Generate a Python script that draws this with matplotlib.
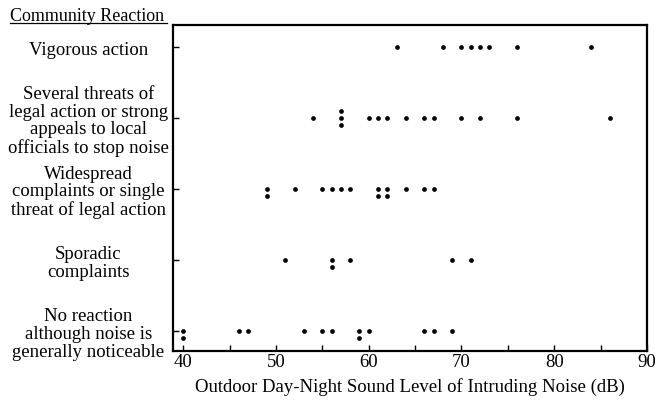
import matplotlib
matplotlib.use("Agg")
import matplotlib.pyplot as plt
from matplotlib.lines import Line2D
from collections import Counter

plt.rcParams['font.family'] = ['Liberation Serif', 'DejaVu Serif']

categories = [
    "No reaction\nalthough noise is\ngenerally noticeable",
    "Sporadic\ncomplaints",
    "Widespread\ncomplaints or single\nthreat of legal action",
    "Several threats of\nlegal action or strong\nappeals to local\nofficials to stop noise",
    "Vigorous action",
]

no_reaction = [40, 40, 46, 47, 53, 55, 56, 59, 59, 60, 66, 67, 69]
sporadic = [51, 56, 56, 58, 69, 71]
widespread = [49, 49, 52, 55, 56, 57, 58, 61, 61, 62, 62, 64, 66, 67]
several_threats = [54, 57, 57, 57, 60, 61, 62, 64, 66, 67, 70, 72, 76, 86]
vigorous = [63, 68, 70, 71, 72, 73, 76, 84]

series = [no_reaction, sporadic, widespread, several_threats, vigorous]

x_ticks = [40, 50, 60, 70, 80, 90]
x_minor = [45, 55, 65, 75, 85]

fig = plt.figure(figsize=(6.55, 4.02), dpi=100)
ax = fig.add_axes([173/655, 1 - 352/402, (647-173)/655, (352-26)/402])

step = 0.1
for i, vals in enumerate(series):
    counts = Counter(vals)
    seen = Counter()
    xs, ys = [], []
    for v in vals:
        n = counts[v]
        k = seen[v]
        seen[v] += 1
        if n == 1:
            off = 0
        elif n == 2:
            off = [0, -step][k]
        else:
            off = [step, 0, -step][k]
        xs.append(v)
        ys.append(i + off)
    ax.plot(xs, ys, linestyle='none', marker='o', markersize=3.4,
            color='black', markeredgewidth=0)

ax.set_xlim(38.9, 90)
ax.set_ylim(-0.28, 4.31)
ax.set_xticks(x_ticks)
ax.set_xticks(x_minor, minor=True)
ax.set_yticks(range(len(categories)))
ax.set_yticklabels(categories)
for lbl in ax.get_yticklabels():
    lbl.set_horizontalalignment('center')
    lbl.set_multialignment('center')
    lbl.set_linespacing(1.05)

ax.tick_params(axis='both', direction='in', length=4.5, width=1, labelsize=13.5)
ax.tick_params(axis='x', which='minor', direction='in', length=4.5, width=1)
ax.tick_params(axis='x', pad=1.5)
ax.tick_params(axis='y', pad=61)

for sp in ax.spines.values():
    sp.set_linewidth(1.6)

ax.set_xlabel("Outdoor Day-Night Sound Level of Intruding Noise (dB)",
              fontsize=13.5, labelpad=5)

fig.text(10/655, 1 - 21/402, "Community Reaction", fontsize=13,
         ha='left', va='baseline')
fig.add_artist(Line2D([10/655, 167/655], [1 - 24/402, 1 - 24/402],
                      transform=fig.transFigure, color='black', linewidth=0.9))

fig.savefig("out.png", dpi=100)
